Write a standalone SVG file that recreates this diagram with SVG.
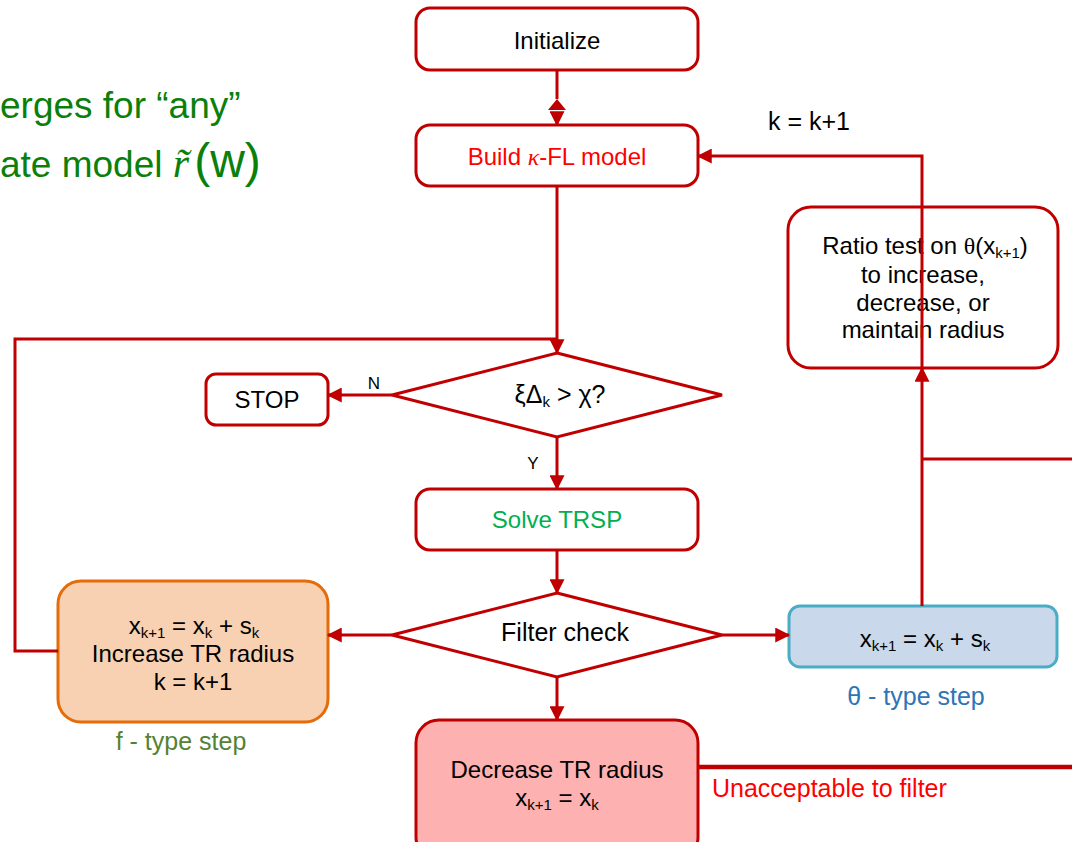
<svg xmlns="http://www.w3.org/2000/svg" width="1072" height="842" viewBox="0 0 1072 842">
  <style>
    .box { fill: #ffffff; stroke: #c00000; stroke-width: 3; }
    .t { font-family: "Liberation Sans", Arial, sans-serif; font-size: 24px; fill: #000000; text-anchor: middle; }
    .sub { font-size: 15px; }
    .lbl { font-family: "Liberation Sans", Arial, sans-serif; font-size: 17px; fill: #000000; text-anchor: middle; }
    .wire { fill: none; stroke: #c00000; stroke-width: 3; }
    .green { font-family: "Liberation Sans", Arial, sans-serif; font-size: 37px; fill: #0a800a; }
  </style>
  <defs>
    <marker id="arrow" viewBox="0 0 12 12" refX="11" refY="6" markerWidth="15" markerHeight="15" markerUnits="userSpaceOnUse" orient="auto">
      <path d="M0,0 L12,6 L0,12 z" fill="#c00000"/>
    </marker>
  </defs>

  <rect width="1072" height="842" fill="#ffffff"/>

  <!-- heading fragment at the upper left -->
  <g id="heading">
    <text class="green" x="0" y="118">erges for “any”</text>
    <text class="green" x="0" y="177">ate model <tspan font-family="'Liberation Serif', serif" font-style="italic" font-size="42px">r̃</tspan><tspan font-size="48px" dx="5">(w)</tspan></text>
  </g>

  <!-- nodes -->
  <g id="initialize">
    <rect class="box" x="416" y="8" width="282" height="62" rx="14"/>
    <text class="t" x="557" y="49">Initialize</text>
  </g>

  <g id="build-model">
    <rect class="box" x="416" y="125" width="282" height="61" rx="14"/>
    <text class="t" x="557" y="165" style="fill:#ff0000">Build <tspan font-family="'Liberation Serif', serif" font-style="italic">κ</tspan>-FL model</text>
  </g>

  <g id="ratio-test">
    <rect class="box" x="788" y="207" width="270" height="161" rx="23"/>
    <text class="t" x="925" y="254">Ratio test on <tspan font-family="'Liberation Serif', serif">θ</tspan>(x<tspan class="sub" dy="4">k+1</tspan><tspan dy="-4">)</tspan></text>
    <text class="t" x="923" y="283">to increase,</text>
    <text class="t" x="923" y="311">decrease, or</text>
    <text class="t" x="923" y="338">maintain radius</text>
  </g>

  <g id="iter-label">
    <text class="t" x="809" y="130" style="font-size:25px">k = k+1</text>
  </g>

  <g id="stop">
    <rect class="box" x="206" y="374" width="122" height="51" rx="10"/>
    <text class="t" x="267" y="408">STOP</text>
  </g>

  <g id="criticality-test">
    <polygon class="box" points="557,353 722,395 557,437 392,395"/>
    <text class="t" x="560" y="403" style="font-size:25px">ξΔ<tspan style="font-size:15px" dy="4">k</tspan><tspan dy="-4"> &gt; χ?</tspan></text>
  </g>

  <g id="solve-trsp">
    <rect class="box" x="416" y="489" width="282" height="61" rx="14"/>
    <text class="t" x="557" y="528" style="fill:#00b050">Solve TRSP</text>
  </g>

  <g id="filter-check">
    <polygon class="box" points="557,593 722,635 557,677 392,635"/>
    <text class="t" x="565" y="641" style="font-size:25px">Filter check</text>
  </g>

  <g id="f-type-step">
    <rect x="58" y="581" width="270" height="141" rx="23" fill="#f7d1b1" stroke="#e46c0a" stroke-width="3"/>
    <text class="t" x="194" y="634">x<tspan class="sub" dy="4">k+1</tspan><tspan dy="-4"> = x</tspan><tspan class="sub" dy="4">k</tspan><tspan dy="-4"> + s</tspan><tspan class="sub" dy="4">k</tspan></text>
    <text class="t" x="193" y="662">Increase TR radius</text>
    <text class="t" x="193" y="690">k = k+1</text>
    <text class="t" x="181" y="750" style="font-size:25px;fill:#548235">f - type step</text>
  </g>

  <g id="theta-type-step">
    <rect x="789" y="606" width="268" height="61" rx="11" fill="#c9d8eb" stroke="#4bacc6" stroke-width="3"/>
    <text class="t" x="925" y="647">x<tspan class="sub" dy="4">k+1</tspan><tspan dy="-4"> = x</tspan><tspan class="sub" dy="4">k</tspan><tspan dy="-4"> + s</tspan><tspan class="sub" dy="4">k</tspan></text>
    <text class="t" x="916" y="705" style="font-size:25px;fill:#2e75b6">θ - type step</text>
  </g>

  <g id="decrease-radius">
    <rect x="416" y="720" width="282" height="140" rx="23" fill="#fdb1b1" stroke="#c00000" stroke-width="3"/>
    <text class="t" x="557" y="778">Decrease TR radius</text>
    <text class="t" x="557" y="806">x<tspan class="sub" dy="4">k+1</tspan><tspan dy="-4"> = x</tspan><tspan class="sub" dy="4">k</tspan></text>
  </g>

  <!-- connectors -->
  <g id="connectors">
    <path class="wire" d="M557,70 V99"/>
    <polygon points="548,110 557,99 566,110" fill="#c00000"/>
    <path class="wire" d="M557,112 V125" marker-end="url(#arrow)"/>
    <path class="wire" d="M557,186 V353" marker-end="url(#arrow)"/>
    <path class="wire" d="M58,651 H15 V339 H557"/>
    <path class="wire" d="M392,395 H328" marker-end="url(#arrow)"/>
    <path class="wire" d="M557,437 V489" marker-end="url(#arrow)"/>
    <path class="wire" d="M557,550 V593" marker-end="url(#arrow)"/>
    <path class="wire" d="M392,635 H328" marker-end="url(#arrow)"/>
    <path class="wire" d="M722,635 H789" marker-end="url(#arrow)"/>
    <path class="wire" d="M557,677 V720" marker-end="url(#arrow)"/>
    <path class="wire" d="M922,606 V368" marker-end="url(#arrow)"/>
    <path class="wire" d="M922,368 V156 H698" marker-end="url(#arrow)"/>
    <path class="wire" d="M922,459 H1072"/>
    <path class="wire" d="M698,767 H1072" style="stroke-width:4.5"/>
    <text class="lbl" x="374" y="389">N</text>
    <text class="lbl" x="533" y="469">Y</text>
    <text x="712" y="797" font-family="'Liberation Sans', Arial, sans-serif" font-size="25px" fill="#ff0000">Unacceptable to filter</text>
  </g>
</svg>
